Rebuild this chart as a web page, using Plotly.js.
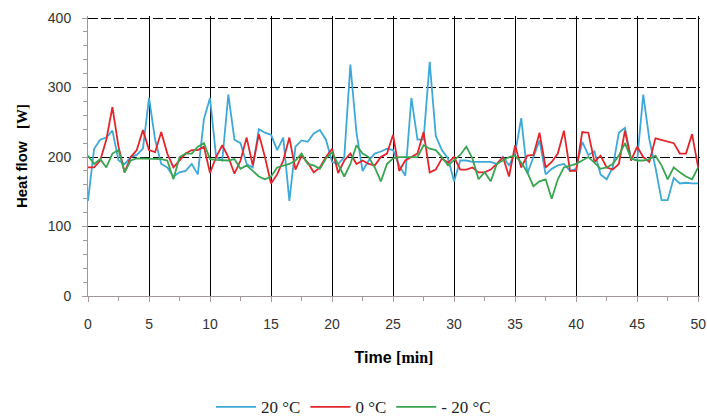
<!DOCTYPE html>
<html>
<head>
<meta charset="utf-8">
<script src="https://cdn.plot.ly/plotly-3.0.1.min.js"></script>
<style>
html,body{margin:0;padding:0;background:#fff;}
#chart{width:707px;height:416px;}
</style>
</head>
<body>
<div id="chart"></div>
<script>
var timeMin = [0,0.5,1,1.5,2,2.5,3,3.5,4,4.5,5,5.5,6,6.5,7,7.5,8,8.5,9,9.5,
  10,10.5,11,11.5,12,12.5,13,13.5,14,14.5,15,15.5,16,16.5,17,17.5,18,18.5,19,19.5,
  20,20.5,21,21.5,22,22.5,23,23.5,24,24.5,25,25.5,26,26.5,27,27.5,28,28.5,29,29.5,
  30,30.5,31,31.5,32,32.5,33,33.5,34,34.5,35,35.5,36,36.5,37,37.5,38,38.5,39,39.5,
  40,40.5,41,41.5,42,42.5,43,43.5,44,44.5,45,45.5,46,46.5,47,47.5,48,48.5,49,49.5,50];

var heat20 = [137,212,225,228,238,195,190,200,203,212,
  285,225,190,185,172,178,180,190,175,255,
  285,200,195,290,225,220,190,185,240,235,
  232,210,228,137,215,224,222,234,239,225,
  193,190,200,333,235,180,195,205,208,212,
  210,188,173,285,225,225,337,230,210,198,
  165,195,195,193,193,193,193,190,200,188,
  205,256,176,200,224,175,183,188,190,180,
  183,222,203,208,175,168,185,235,242,198,
  195,290,225,185,138,138,170,162,163,162,162];

var heat0 = [185,185,195,225,272,215,178,200,210,239,
  210,207,236,205,185,195,205,210,210,215,
  177,200,217,200,176,195,228,188,233,200,
  162,175,195,228,182,202,192,178,185,200,
  212,177,195,205,190,195,190,188,200,205,
  232,180,195,200,205,236,178,182,198,192,
  200,182,182,185,178,178,182,190,200,172,
  217,185,202,203,235,185,193,205,238,180,
  180,236,235,193,202,185,182,190,238,195,
  215,200,193,227,225,222,220,205,205,233,185];

var heatM20 = [202,190,197,185,205,210,178,195,198,198,
  198,197,197,195,168,200,205,205,215,220,
  197,196,196,195,197,183,188,180,172,168,
  172,185,188,190,195,205,190,188,183,198,
  207,190,172,190,217,205,200,185,165,190,
  198,200,200,200,200,217,212,210,200,188,
  195,203,215,198,168,178,165,190,195,200,
  202,192,178,158,165,168,140,168,185,188,
  190,195,200,192,183,185,190,202,220,198,
  195,195,197,202,188,168,185,178,172,168,185];

var seriesNames = ['20 \u00b0C', '0 \u00b0C', '- 20 \u00b0C'];
var seriesColors = ['#3ea8d8', '#e2262c', '#3aa550'];
var seriesValues = [heat20, heat0, heatM20];

var traces = seriesValues.map(function(v, i){
  return {
    x: timeMin, y: v, type: 'scatter', mode: 'lines',
    name: seriesNames[i],
    line: {color: seriesColors[i], width: 1.8}
  };
});

var tickCol = '#a89a9a';
var layout = {
  width: 707, height: 416,
  margin: {l: 88, r: 7, t: 16, b: 120},
  paper_bgcolor: '#fff', plot_bgcolor: '#fff',
  showlegend: true,
  legend: {
    orientation: 'h', xref: 'container', yref: 'container',
    x: 0.5, xanchor: 'center', y: 0.021, yanchor: 'middle',
    font: {family: 'Liberation Serif, Times New Roman, serif', size: 17, color: '#222'},
    itemwidth: 40, traceorder: 'normal'
  },
  xaxis: {
    range: [0, 50.15], tick0: 0, dtick: 5,
    showgrid: true, gridcolor: '#000', gridwidth: 1,
    zeroline: false,
    showline: true, linecolor: '#a09898', linewidth: 1,
    ticks: 'outside', ticklen: 5, tickcolor: tickCol,
    ticklabelstandoff: 10,
    tickfont: {family: 'Liberation Sans, Arial, sans-serif', size: 14, color: '#333'},
    minor: {dtick: 2.5, ticks: 'outside', ticklen: 4, tickcolor: tickCol, showgrid: false},
    title: {
      text: 'Time <span style="font-family:Liberation Serif">[min]</span>',
      font: {family: 'Liberation Sans, Arial, sans-serif', size: 16, color: '#000', weight: 'bold'},
      standoff: 21
    }
  },
  yaxis: {
    range: [0, 403], tick0: 0, dtick: 100,
    showgrid: true, gridcolor: '#000', gridwidth: 1, griddash: '10px,3px',
    zeroline: false,
    showline: true, linecolor: '#a09898', linewidth: 1,
    ticks: 'outside', ticklen: 5, tickcolor: tickCol,
    ticklabelstandoff: 8,
    tickfont: {family: 'Liberation Sans, Arial, sans-serif', size: 14, color: '#333'},
    minor: {dtick: 20, ticks: 'outside', ticklen: 4, tickcolor: tickCol, showgrid: false},
    title: {
      text: 'Heat flow &nbsp;&nbsp;<span style="font-family:Liberation Serif">[W]</span>',
      font: {family: 'Liberation Sans, Arial, sans-serif', size: 15, color: '#000', weight: 'bold'},
      standoff: 16
    }
  }
};

Plotly.newPlot('chart', traces, layout, {displayModeBar: false, staticPlot: true});
</script>
</body>
</html>
